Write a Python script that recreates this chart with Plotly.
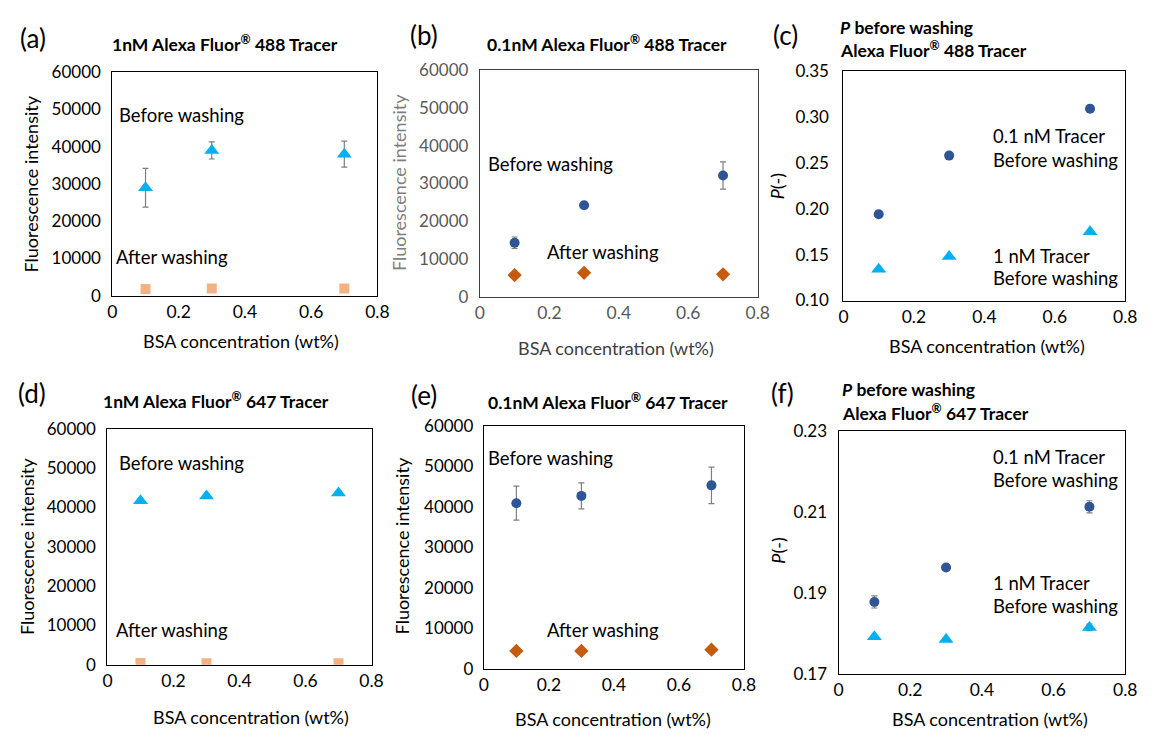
import plotly.graph_objects as go

W, H = 1155, 738

# ---------------- data ----------------
bsa = [0.1, 0.3, 0.7]

a_before = [29000, 39000, 38000]
a_before_err = [5200, 2300, 3500]
a_after = [1800, 1900, 1900]

b_before = [14300, 24200, 32100]
b_before_err = [1500, 300, 3600]
b_after = [5700, 6300, 5900]

c_tracer01 = [0.194, 0.258, 0.309]
c_tracer01_err = [0.002, 0.001, 0.004]
c_tracer1 = [0.134, 0.148, 0.175]
c_tracer1_err = [0.001, 0.001, 0.001]

d_before = [41700, 42900, 43700]
d_before_err = [400, 400, 500]
d_after = [500, 400, 400]

e_before = [40900, 42700, 45300]
e_before_err = [4200, 3200, 4500]
e_after = [4400, 4400, 4700]

f_tracer01 = [0.1877, 0.1962, 0.2112]
f_tracer01_err = [0.0015, 0.0007, 0.0015]
f_tracer1 = [0.1791, 0.1784, 0.1814]
f_tracer1_err = [0.0003, 0.0003, 0.0008]

x_ticks = [0, 0.2, 0.4, 0.6, 0.8]
fl_ticks = [0, 10000, 20000, 30000, 40000, 50000, 60000]
c_ticks = [0.10, 0.15, 0.20, 0.25, 0.30, 0.35]
f_ticks = [0.17, 0.19, 0.21, 0.23]

# ---------------- styles ----------------
FONT = "Lato"
LIGHTBLUE = "#00B0F0"
DARKBLUE = "#2F5597"
PEACH = "#F4B183"
RUST = "#C55A11"
ERR = "#7F7F7F"


def px(x):
    return x / W


def py(y):
    return 1 - y / H


# panel boxes in pixels: (left, top, right, bottom)
boxes = {
    1: (109, 63, 378, 293),
    2: (482, 61, 764, 294),
    3: (851, 62, 1137, 298),
    4: (104, 430, 372, 673),
    5: (486, 427, 750, 677),
    6: (846, 432, 1137, 682),
}

fig = go.Figure()


def add(idx, y, err, symbol, color, size):
    xa = "x" if idx == 1 else f"x{idx}"
    ya = "y" if idx == 1 else f"y{idx}"
    kw = {}
    if err is not None:
        kw["error_y"] = dict(type="data", array=err, visible=True,
                             color=ERR, thickness=1.2, width=3)
    fig.add_trace(go.Scatter(x=bsa, y=y, mode="markers", xaxis=xa, yaxis=ya,
                             marker=dict(symbol=symbol, color=color, size=size),
                             showlegend=False, **kw))


add(1, a_before, a_before_err, "triangle-up", LIGHTBLUE, 13)
add(1, a_after, None, "square", PEACH, 10)
add(2, b_before, b_before_err, "circle", DARKBLUE, 10)
add(2, b_after, None, "diamond", RUST, 11)
add(3, c_tracer01, c_tracer01_err, "circle", DARKBLUE, 10)
add(3, c_tracer1, c_tracer1_err, "triangle-up", LIGHTBLUE, 13)
add(4, d_before, d_before_err, "triangle-up", LIGHTBLUE, 13)
add(4, d_after, None, "square", PEACH, 10)
add(5, e_before, e_before_err, "circle", DARKBLUE, 10)
add(5, e_after, None, "diamond", RUST, 11)
add(6, f_tracer01, f_tracer01_err, "circle", DARKBLUE, 10)
add(6, f_tracer1, f_tracer1_err, "triangle-up", LIGHTBLUE, 13)

layout = dict(width=W, height=H, margin=dict(l=0, r=0, t=0, b=0),
              autosize=False, paper_bgcolor="white", plot_bgcolor="white",
              font=dict(family=FONT, size=18, color="#000000"))

yranges = {1: [0, 60000], 2: [0, 60000], 3: [0.10, 0.35],
           4: [0, 60000], 5: [0, 60000], 6: [0.17, 0.23]}
yticks = {1: fl_ticks, 2: fl_ticks, 3: c_ticks, 4: fl_ticks, 5: fl_ticks, 6: f_ticks}
yfmt = {1: "d", 2: "d", 3: ".2f", 4: "d", 5: "d", 6: ".2f"}
ylen = {1: 7, 2: 7, 3: 10, 4: 7, 5: 6, 6: 7}

for i, (l, t, r, b) in boxes.items():
    tickcol = "#595959" if i == 2 else "#000000"
    linecol = "#404040" if i == 2 else "#000000"
    sx = "" if i == 1 else str(i)
    layout[f"xaxis{sx}"] = dict(
        domain=[px(l), px(r)], range=[0, 0.8], tickvals=x_ticks,
        anchor=f"y{sx}", showgrid=False, zeroline=False, showline=True,
        mirror=True, linecolor=linecol, linewidth=1.2, ticks="",
        tickfont=dict(color=tickcol, size=17.5), fixedrange=True)
    layout[f"yaxis{sx}"] = dict(
        domain=[py(b), py(t)], range=yranges[i], tickvals=yticks[i],
        tickformat=yfmt[i], anchor=f"x{sx}", showgrid=False, zeroline=False,
        showline=True, mirror=True, linecolor=linecol, linewidth=1.2,
        ticks="outside", ticklen=ylen[i], tickcolor="rgba(0,0,0,0)",
        tickfont=dict(color=tickcol, size=17), fixedrange=True)

fig.update_layout(**layout)

ann = []


def text(x, y, s, size=18, color="#000000", xanchor="center", angle=0):
    ann.append(dict(x=px(x), y=py(y), xref="paper", yref="paper", text=s,
                    showarrow=False, xanchor=xanchor, yanchor="middle",
                    textangle=angle, font=dict(size=size, color=color)))


# panel letters
for lab, (x, y) in {"(a)": (28, 28), "(b)": (425, 25), "(c)": (792, 25),
                    "(d)": (27, 393), "(e)": (425, 395), "(f)": (789, 393)}.items():
    text(x, y, lab, size=26)

TS = 17.5
# panel titles
text(223, 33, "<b>1nM Alexa Fluor<sup>®</sup> 488 Tracer</b>", size=TS)
text(611, 33, "<b>0.1nM Alexa Fluor<sup>®</sup> 488 Tracer</b>", size=TS)
text(845, 17, "<b><i>P</i> before washing</b>", size=TS, xanchor="left")
text(845, 40, "<b>Alexa Fluor<sup>®</sup> 488 Tracer</b>", size=TS, xanchor="left")
text(214, 401, "<b>1nM Alexa Fluor<sup>®</sup> 647 Tracer</b>", size=TS)
text(612, 402, "<b>0.1nM Alexa Fluor<sup>®</sup> 647 Tracer</b>", size=TS)
text(847, 390, "<b><i>P</i> before washing</b>", size=TS, xanchor="left")
text(847, 413, "<b>Alexa Fluor<sup>®</sup> 647 Tracer</b>", size=TS, xanchor="left")

# axis titles
XT = "BSA concentration (wt%)"
text(240, 340, XT)
text(620, 347, XT, color="#404040")
text(997, 345, XT)
text(250, 727, XT)
text(617, 729, XT)
text(1000, 729, XT)
YT = "Fluorescence intensity"
text(26, 178, YT, angle=-90)
text(400, 177, YT, color="#7F7F7F", angle=-90)
text(783, 180, "<i>P</i>(-)", angle=-90)
text(23, 551, YT, angle=-90)
text(403, 551, YT, angle=-90)
text(785, 555, "<i>P</i>(-)", angle=-90)

# in-plot labels
LS = 18.5
text(179, 107, "Before washing", size=LS)
text(169, 253, "After washing", size=LS)
text(554, 157, "Before washing", size=LS)
text(607, 248, "After washing", size=LS)
text(1001, 129, "0.1 nM Tracer", size=LS, xanchor="left")
text(1001, 153, "Before washing", size=LS, xanchor="left")
text(1001, 252, "1 nM Tracer", size=LS, xanchor="left")
text(1001, 275, "Before washing", size=LS, xanchor="left")
text(179, 465, "Before washing", size=LS)
text(169, 637, "After washing", size=LS)
text(554, 460, "Before washing", size=LS)
text(607, 637, "After washing", size=LS)
text(1001, 459, "0.1 nM Tracer", size=LS, xanchor="left")
text(1001, 483, "Before washing", size=LS, xanchor="left")
text(1001, 589, "1 nM Tracer", size=LS, xanchor="left")
text(1001, 612, "Before washing", size=LS, xanchor="left")

fig.update_layout(annotations=ann)

fig.write_html("out.html", config={"displayModeBar": False},
               post_script="document.body.style.margin='0';")
